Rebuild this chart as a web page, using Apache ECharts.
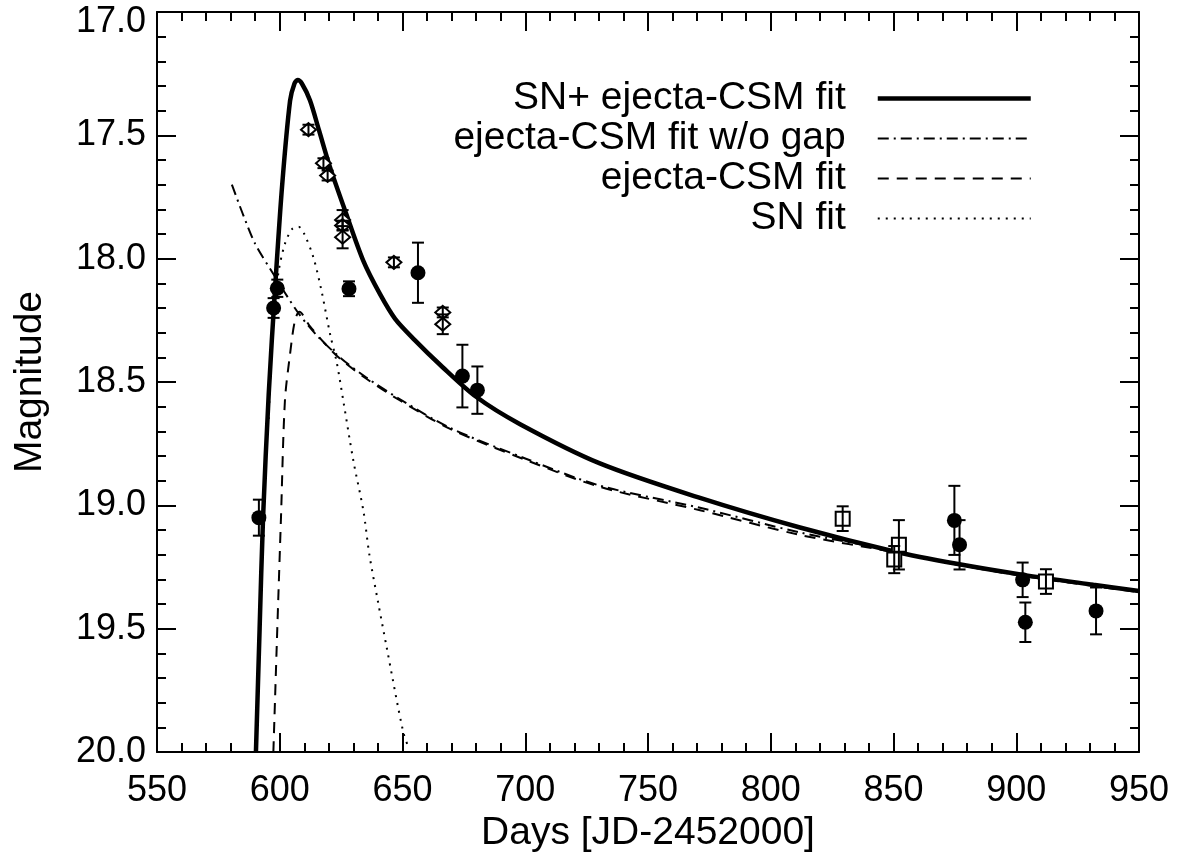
<!DOCTYPE html>
<html>
<head>
<meta charset="utf-8">
<script src="https://cdn.jsdelivr.net/npm/echarts@6/dist/echarts.min.js"></script>
<style>
html,body{margin:0;padding:0;background:#fff;}
#chart{width:1184px;height:857px;}
</style>
</head>
<body>
<div id="chart"></div>
<script>
// ---- Data ----
const legendNames = ['SN+ ejecta-CSM fit', 'ejecta-CSM fit w/o gap', 'ejecta-CSM fit', 'SN fit'];

// SN + ejecta-CSM fit (solid)
const solidDays = [590.3, 591.8, 593.2, 595.5, 598.1, 601.0, 604.2, 606.0, 607.3, 609.0, 612.3, 616.0, 620.5, 626.6, 634.0, 640.8, 647.0, 655.0, 665.3, 680.0, 697.9, 730.4, 771.2, 811.9, 850.3, 875.7, 902.9, 931.4, 950.0];
const solidMag  = [20.00, 19.50, 19.05, 18.55, 18.12, 17.70, 17.36, 17.29, 17.276, 17.29, 17.358, 17.48, 17.63, 17.805, 18.008, 18.143, 18.244, 18.33, 18.43, 18.56, 18.671, 18.83, 18.97, 19.09, 19.187, 19.237, 19.282, 19.322, 19.347];

// ejecta-CSM fit without gap (dash-dot)
const dashDotDays = [580.5, 585.0, 590.0, 597.4, 606.9, 615.0, 624.5, 635.0, 649.0, 669.4, 700.0, 730.4, 771.2, 811.9, 850.3, 875.7, 902.9, 931.4, 950.0];
const dashDotMag  = [17.70, 17.82, 17.94, 18.062, 18.211, 18.31, 18.40, 18.48, 18.57, 18.686, 18.81, 18.92, 19.01, 19.11, 19.185, 19.24, 19.285, 19.325, 19.35];

// ejecta-CSM fit (dashed)
const dashedDays = [597.4, 599.0, 600.5, 602.1, 604.2, 606.2, 608.0, 612.0, 618.0, 624.5, 635.0, 649.0, 669.4, 700.0, 730.4, 771.2, 811.9, 850.3, 875.7, 902.9, 931.4, 950.0];
const dashedMag  = [20.00, 19.50, 19.05, 18.577, 18.386, 18.25, 18.215, 18.27, 18.34, 18.405, 18.485, 18.575, 18.69, 18.815, 18.925, 19.02, 19.12, 19.19, 19.24, 19.287, 19.327, 19.352];

// SN fit (dotted)
const dottedDays = [595.5, 597.0, 599.4, 602.1, 605.0, 607.6, 610.0, 613.7, 617.0, 620.5, 623.2, 625.9, 630.0, 634.1, 636.5, 640.0, 643.5, 650.3, 652.7];
const dottedMag  = [18.65, 18.30, 18.06, 17.94, 17.88, 17.87, 17.90, 17.995, 18.13, 18.306, 18.42, 18.577, 18.82, 19.024, 19.20, 19.39, 19.573, 19.919, 19.987];

// Filled circles: day, magnitude, error
const circleDays = [591.5, 597.5, 599.0, 628.2, 656.3, 674.4, 680.5, 874.8, 876.9, 902.6, 903.7, 932.5];
const circleMag  = [19.05, 18.20, 18.12, 18.122, 18.057, 18.476, 18.533, 19.061, 19.16, 19.302, 19.474, 19.428];
const circleErr  = [0.073, 0.04, 0.035, 0.03, 0.122, 0.127, 0.096, 0.14, 0.10, 0.07, 0.08, 0.095];

// Open squares
const squareDays = [829.3, 850.3, 852.2, 912.1];
const squareMag  = [19.054, 19.22, 19.16, 19.309];
const squareErr  = [0.05, 0.055, 0.10, 0.05];

// Open diamonds
const diamondDays = [611.7, 617.8, 619.5, 625.6, 625.6, 625.6, 646.5, 666.4, 666.4];
const diamondMag  = [17.477, 17.613, 17.663, 17.843, 17.866, 17.913, 18.015, 18.218, 18.266];
const diamondErr  = [0.02, 0.02, 0.02, 0.04, 0.02, 0.045, 0.02, 0.02, 0.04];

const xMin = 550, xMax = 950, xStep = 50;
const yMin = 17.0, yMax = 20.0, yStep = 0.5;

// ---- Build ----
const zip2 = (a, b) => a.map((v, i) => [v, b[i]]);
const zip3 = (a, b, c) => a.map((v, i) => [v, b[i], c[i]]);

const FONT = '"Liberation Sans", Arial, Helvetica, sans-serif';
const black = '#000';
const TICK_FS = 36;
const TITLE_FS = 39;

const lineStyles = [
  { color: black, width: 4.5, type: 'solid' },
  { color: black, width: 2, type: [11, 5, 2, 5] },
  { color: black, width: 2, type: [11, 8] },
  { color: black, width: 2, type: [2, 6] }
];

function errRender(params, api) {
  const x = api.value(0), y = api.value(1), e = api.value(2);
  const t = api.coord([x, y - e]);
  const b = api.coord([x, y + e]);
  const hw = 6;
  const st = { stroke: black, lineWidth: 2 };
  return {
    type: 'group',
    children: [
      { type: 'line', shape: { x1: t[0], y1: t[1], x2: b[0], y2: b[1] }, style: st },
      { type: 'line', shape: { x1: t[0] - hw, y1: t[1], x2: t[0] + hw, y2: t[1] }, style: st },
      { type: 'line', shape: { x1: b[0] - hw, y1: b[1], x2: b[0] + hw, y2: b[1] }, style: st }
    ]
  };
}

function errSeries(days, mags, errs, z) {
  return {
    type: 'custom',
    renderItem: errRender,
    data: zip3(days, mags, errs),
    encode: { x: 0, y: 1 },
    z: z,
    silent: true,
    animation: false
  };
}

const axisLineStyle = { color: black, width: 2 };

function makeX(pos, showLabel) {
  return {
    type: 'value', position: pos, min: xMin, max: xMax, interval: xStep,
    axisLine: { show: true, onZero: false, lineStyle: axisLineStyle },
    axisTick: { show: true, inside: true, length: 19, lineStyle: { color: black, width: 2 } },
    minorTick: { show: true, splitNumber: 5, length: 9, lineStyle: { color: black, width: 2 } },
    splitLine: { show: false },
    minorSplitLine: { show: false },
    axisLabel: { show: showLabel, color: black, fontSize: TICK_FS, fontFamily: FONT, margin: 21, showMinLabel: true, showMaxLabel: true, hideOverlap: false },
    name: showLabel ? 'Days [JD-2452000]' : '',
    nameLocation: 'middle',
    nameGap: 60,
    nameTextStyle: { color: black, fontSize: TITLE_FS, fontFamily: FONT }
  };
}

function makeY(pos, showLabel) {
  return {
    type: 'value', position: pos, inverse: true, min: yMin, max: yMax, interval: yStep,
    axisLine: { show: true, onZero: false, lineStyle: axisLineStyle },
    axisTick: { show: true, inside: true, length: 19, lineStyle: { color: black, width: 2 } },
    minorTick: { show: true, splitNumber: 5, length: 9, lineStyle: { color: black, width: 2 } },
    splitLine: { show: false },
    minorSplitLine: { show: false },
    axisLabel: { show: showLabel, color: black, fontSize: TICK_FS, fontFamily: FONT, margin: 11,
      formatter: v => (Math.abs(v - yMin) < 1e-9 ? '{top|' + v.toFixed(1) + '}' : v.toFixed(1)),
      rich: { top: { fontSize: TICK_FS, fontFamily: FONT, color: black, padding: [20, 0, 0, 0] } },
      showMinLabel: true, showMaxLabel: true, hideOverlap: false },
    name: showLabel ? 'Magnitude' : '',
    nameLocation: 'middle',
    nameRotate: 90,
    nameGap: 107,
    nameTextStyle: { color: black, fontSize: TITLE_FS, fontFamily: FONT }
  };
}

const option = {
  backgroundColor: '#fff',
  animation: false,
  grid: { left: 157, right: 45, top: 12, bottom: 105, containLabel: false, outerBoundsMode: 'none' },
  xAxis: [makeX('bottom', true), makeX('top', false)],
  yAxis: [makeY('left', true), makeY('right', false)],
  legend: {
    data: legendNames.map((n, i) => ({ name: n, lineStyle: { width: lineStyles[i].width, type: lineStyles[i].type, color: black } })),
    orient: 'vertical',
    align: 'right',
    right: 151,
    top: 79,
    padding: 0,
    itemWidth: 153,
    itemHeight: 14,
    itemGap: 1,
    selectedMode: false,
    itemStyle: { color: 'rgba(0,0,0,0)', borderWidth: 0, opacity: 0 },
    textStyle: { color: black, fontSize: TITLE_FS, fontFamily: FONT, padding: [0, 27, 0, 0] }
  },
  series: [
    {
      name: legendNames[0], type: 'line', data: zip2(solidDays, solidMag),
      showSymbol: false, symbol: 'none', smooth: 0.3, z: 5,
      lineStyle: lineStyles[0], itemStyle: { color: black }
    },
    {
      name: legendNames[1], type: 'line', data: zip2(dashDotDays, dashDotMag),
      showSymbol: false, symbol: 'none', smooth: 0.3, z: 4,
      lineStyle: lineStyles[1], itemStyle: { color: black }
    },
    {
      name: legendNames[2], type: 'line', data: zip2(dashedDays, dashedMag),
      showSymbol: false, symbol: 'none', smooth: 0.3, z: 4,
      lineStyle: lineStyles[2], itemStyle: { color: black }
    },
    {
      name: legendNames[3], type: 'line', data: zip2(dottedDays, dottedMag),
      showSymbol: false, symbol: 'none', smooth: 0.3, z: 4,
      lineStyle: lineStyles[3], itemStyle: { color: black }
    },
    {
      type: 'scatter', data: zip2(circleDays, circleMag), symbol: 'circle', symbolSize: 15, z: 6,
      itemStyle: { color: black, opacity: 1 }, silent: true
    },
    {
      type: 'scatter', data: zip2(squareDays, squareMag), symbol: 'rect', symbolSize: 14, z: 6,
      itemStyle: { color: '#fff', borderColor: black, borderWidth: 2, opacity: 1 }, silent: true
    },
    {
      type: 'scatter', data: zip2(diamondDays, diamondMag), symbol: 'diamond', symbolSize: [15, 13], z: 6,
      itemStyle: { color: '#fff', borderColor: black, borderWidth: 2, opacity: 1 }, silent: true
    },
    errSeries(circleDays, circleMag, circleErr, 7),
    errSeries(squareDays, squareMag, squareErr, 7),
    errSeries(diamondDays, diamondMag, diamondErr, 7)
  ]
};

const chart = echarts.init(document.getElementById('chart'), null, { renderer: 'canvas' });
chart.setOption(option);
</script>
</body>
</html>
